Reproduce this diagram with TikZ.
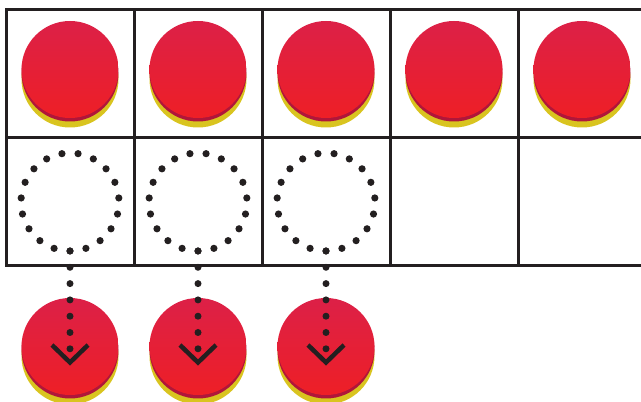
\documentclass[tikz,border=0pt]{standalone}
\usetikzlibrary{calc}
\definecolor{faceTop}{HTML}{DC2047}
\definecolor{faceBot}{HTML}{EE1F26}
\definecolor{rim}{HTML}{B0163A}
\definecolor{rimShadow}{HTML}{D9C41F}
\definecolor{ink}{HTML}{231F20}

\begin{document}
\begin{tikzpicture}[x=1pt, y=1pt,
    cell/.style={draw=ink, line width=3pt, minimum size=128pt, inner sep=0pt, outer sep=0pt},
    disc/.style={circle, minimum size=97pt, inner sep=0pt, outer sep=0pt},
    face/.style={disc, top color=faceTop, bottom color=faceBot},
    ghost/.style={circle, minimum size=98pt, inner sep=0pt, outer sep=0pt},
    dotlink/.style={draw=ink, line width=7pt, line cap=round, dash pattern=on 0pt off 16.3pt},
    chevron/.style={draw=ink, line width=4.5pt, miter limit=10}]
  \useasboundingbox (0,0) rectangle (641,402);
  \clip (0,0) rectangle (641,402);

  % ten frame
  \foreach \i/\x in {1/70,2/198,3/326,4/454,5/582} {
    \node[cell] (top\i) at (\x,328) {};
    \node[cell] (bot\i) at (\x,200) {};
  }

  % counters in the top row
  \foreach \i/\x in {1/70,2/198,3/326,4/454,5/582} {
    \node[disc, fill=rimShadow] at (\x,323) {};
    \node[disc, fill=rim] at (\x,329) {};
    \node[face] (cnt\i) at (\x,332.5) {};
  }

  % empty places and moved counters
  \foreach \i/\x in {1/70,2/198,3/326} {
    \node[ghost] (ghost\i) at (\x,200) {};
    \foreach \k in {0,...,18} {
      \pgfmathsetmacro\ang{-90+\k*360/19}
      \fill[ink] ($(ghost\i)+(\ang:49)$) circle (3.6);
    }
    \node[disc, fill=rimShadow] at (\x,46) {};
    \node[disc, fill=rim] at (\x,52) {};
    \node[face] (moved\i) at (\x,55.5) {};
    \coordinate (tip\i) at (\x,53);
    \draw[dotlink] (ghost\i.south) -- (tip\i);
    \draw[chevron] ($(tip\i)+(-18,4)$) -- ($(tip\i)+(0,-13.5)$) -- ($(tip\i)+(18,4)$);
  }
\end{tikzpicture}
\end{document}
